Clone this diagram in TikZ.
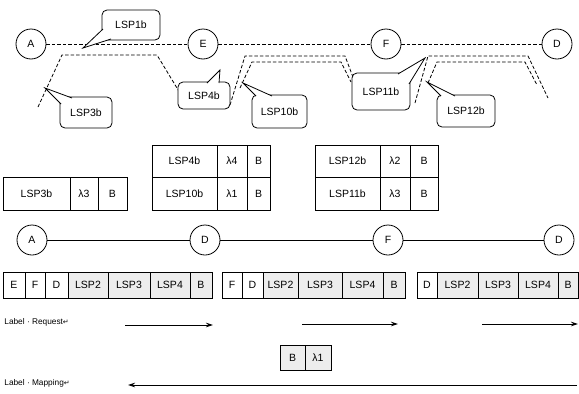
\documentclass[tikz,border=0pt]{standalone}
\usepackage{fontspec}
\setmainfont{Liberation Sans}
\newfontfamily\djv{DejaVu Sans}
\usetikzlibrary{arrows.meta}
\newcommand\calltail[3]{%
  \fill[white] (#1) -- (#3) -- (#2) -- cycle;
  \draw[line join=miter] (#1) -- (#3) -- (#2);}
\begin{document}
\begin{tikzpicture}[x=1pt,y=-1pt,line width=0.8pt,
  every node/.style={font=\fontsize{10.5}{12}\selectfont},
  nd/.style={circle,draw,minimum size=30pt,inner sep=0pt,fill=white},
  cellbox/.style={draw,anchor=north west,inner sep=0pt,outer sep=0pt},
  shd/.style={fill=black!7},
  bubble/.style={draw,fill=white,rounded corners=5pt,anchor=north west,inner sep=0pt,outer sep=0pt},
  pth/.style={dash pattern=on 3.5pt off 2pt},
  arr/.style={-{Stealth[length=7pt,width=4.5pt]}},
  lbl/.style={font=\fontsize{8.3}{10}\selectfont,anchor=west,inner sep=0pt}]
\fill[white] (0,0) rectangle (579,394);
\useasboundingbox (0,0) rectangle (579,394);

% ---------- top row ----------
\node[nd] (A1) at (31,44) {A};
\node[nd] (E1) at (203,44) {E};
\node[nd] (F1) at (386,44) {F};
\node[nd] (D1) at (557,44) {D};
\draw[pth] (A1) -- (E1) -- (F1) -- (D1);

\draw[pth] (38,107) -- (62,55) -- (157,55) -- (180,93);
\draw[pth] (230,105) -- (245,56) -- (345,56) -- (356,85);
\draw[pth] (240,88) -- (252,62) -- (341,62) -- (351,82);
\draw[pth] (415,103) -- (428,56) -- (528,56) -- (548,98);
\draw[pth] (428,83) -- (437,62) -- (525,62) -- (537,85);

% callouts
\node[bubble,minimum width=58pt,minimum height=30pt] (c1) at (102,10) {LSP1b};
\coordinate (c1a) at (103,29); \coordinate (c1b) at (111,39); \coordinate (c1t) at (83,48);
\calltail{c1a}{c1b}{c1t}

\node[bubble,minimum width=52pt,minimum height=31pt] (c3) at (60,97) {LSP3b};
\coordinate (c3a) at (61,104); \coordinate (c3b) at (72,98); \coordinate (c3t) at (45,88);
\calltail{c3a}{c3b}{c3t}

\node[bubble,minimum width=52pt,minimum height=27pt] (c4) at (178,82) {LSP4b};
\coordinate (c4a) at (207,83); \coordinate (c4b) at (219,83); \coordinate (c4t) at (220,70);
\calltail{c4a}{c4b}{c4t}

\node[bubble,minimum width=55pt,minimum height=33pt] (c10) at (252,95) {LSP10b};
\coordinate (c10a) at (256,96); \coordinate (c10b) at (272,96); \coordinate (c10t) at (243,83);
\calltail{c10a}{c10b}{c10t}

\node[bubble,minimum width=58pt,minimum height=37pt] (c11) at (352,73) {LSP11b};
\coordinate (c11a) at (398,74); \coordinate (c11b) at (409,84); \coordinate (c11t) at (425,58);
\calltail{c11a}{c11b}{c11t}

\node[bubble,minimum width=58pt,minimum height=32pt] (c12) at (437,95) {LSP12b};
\coordinate (c12a) at (441,96); \coordinate (c12b) at (455,96); \coordinate (c12t) at (427,82);
\calltail{c12a}{c12b}{c12t}

% ---------- middle tables ----------
\node[cellbox,minimum width=67pt,minimum height=33pt] (t1a) at (3,177) {LSP3b};
\node[cellbox,minimum width=28pt,minimum height=33pt] (t1b) at (70,177) {λ3};
\node[cellbox,minimum width=29pt,minimum height=33pt] (t1c) at (98,177) {B};

\node[cellbox,minimum width=65pt,minimum height=32pt] (t2a) at (152,145) {LSP4b};
\node[cellbox,minimum width=30pt,minimum height=32pt] (t2b) at (217,145) {λ4};
\node[cellbox,minimum width=23pt,minimum height=32pt] (t2c) at (247,145) {B};
\node[cellbox,minimum width=65pt,minimum height=33pt] (t2d) at (152,177) {LSP10b};
\node[cellbox,minimum width=30pt,minimum height=33pt] (t2e) at (217,177) {λ1};
\node[cellbox,minimum width=23pt,minimum height=33pt] (t2f) at (247,177) {B};

\node[cellbox,minimum width=65pt,minimum height=32pt] (t3a) at (315,145) {LSP12b};
\node[cellbox,minimum width=30pt,minimum height=32pt] (t3b) at (380,145) {λ2};
\node[cellbox,minimum width=28pt,minimum height=32pt] (t3c) at (410,145) {B};
\node[cellbox,minimum width=65pt,minimum height=33pt] (t3d) at (315,177) {LSP11b};
\node[cellbox,minimum width=30pt,minimum height=33pt] (t3e) at (380,177) {λ3};
\node[cellbox,minimum width=28pt,minimum height=33pt] (t3f) at (410,177) {B};

% ---------- bottom row ----------
\node[nd] (A2) at (32,240) {A};
\node[nd] (D2) at (205,240) {D};
\node[nd] (F2) at (388,240) {F};
\node[nd] (D3) at (559,240) {D};
\draw (A2) -- (D2) -- (F2) -- (D3);

\begin{scope}[every node/.append style={minimum height=26pt}]
\node[cellbox,minimum width=22pt] (r1a) at (3,272) {E};
\node[cellbox,minimum width=20pt] (r1b) at (25,272) {F};
\node[cellbox,minimum width=23pt] (r1c) at (45,272) {D};
\node[cellbox,shd,minimum width=40pt] (r1d) at (68,272) {LSP2};
\node[cellbox,shd,minimum width=42pt] (r1e) at (108,272) {LSP3};
\node[cellbox,shd,minimum width=40pt] (r1f) at (150,272) {LSP4};
\node[cellbox,shd,minimum width=22pt] (r1g) at (190,272) {B};

\node[cellbox,minimum width=20pt] (r2a) at (222,272) {F};
\node[cellbox,minimum width=21pt] (r2b) at (242,272) {D};
\node[cellbox,shd,minimum width=35pt] (r2c) at (263,272) {LSP2};
\node[cellbox,shd,minimum width=44pt] (r2d) at (298,272) {LSP3};
\node[cellbox,shd,minimum width=41pt] (r2e) at (342,272) {LSP4};
\node[cellbox,shd,minimum width=22pt] (r2f) at (383,272) {B};

\node[cellbox,minimum width=20pt] (r3a) at (417,272) {D};
\node[cellbox,shd,minimum width=41pt] (r3b) at (437,272) {LSP2};
\node[cellbox,shd,minimum width=40pt] (r3c) at (478,272) {LSP3};
\node[cellbox,shd,minimum width=40pt] (r3d) at (518,272) {LSP4};
\node[cellbox,shd,minimum width=20pt] (r3e) at (558,272) {B};
\end{scope}

\node[lbl] (lreq) at (4,322) {Label · Request{\djv\fontsize{7}{9}\selectfont ↵}};
\coordinate (q1s) at (125,325); \coordinate (q1e) at (213,325);
\coordinate (q2s) at (302,324); \coordinate (q2e) at (398,324);
\coordinate (q3s) at (482,324); \coordinate (q3e) at (578,324);
\draw[arr] (q1s) -- (q1e);
\draw[arr] (q2s) -- (q2e);
\draw[arr] (q3s) -- (q3e);

\node[cellbox,shd,minimum width=25pt,minimum height=25pt] (m1) at (280,345) {B};
\node[cellbox,shd,minimum width=26pt,minimum height=25pt] (m2) at (305,345) {λ1};

\node[lbl] (lmap) at (4,383) {Label · Mapping{\djv\fontsize{7}{9}\selectfont ↵}};
\coordinate (ms) at (577,385); \coordinate (me) at (128,385);
\draw[arr] (ms) -- (me);
\end{tikzpicture}
\end{document}
